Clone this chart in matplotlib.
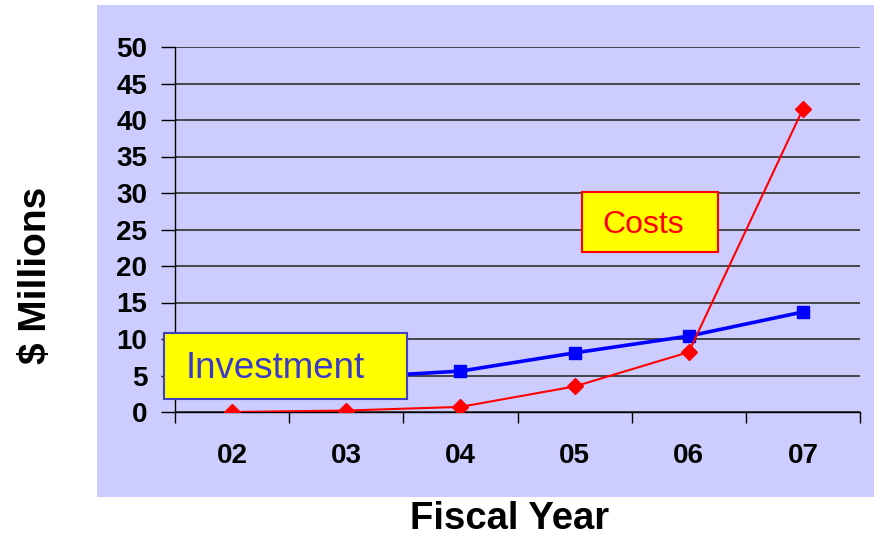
import matplotlib.pyplot as plt
from matplotlib.patches import Rectangle

# données
years = ['02', '03', '04', '05', '06', '07']
investment = [3.5, 4.7, 5.6, 8.1, 10.4, 13.7]
costs = [0.0, 0.2, 0.7, 3.5, 8.2, 41.5]
y_ticks = list(range(0, 55, 5))

lavender = '#CCCCFF'
plt.rcParams['font.family'] = ['Liberation Sans', 'DejaVu Sans']

W, H = 874, 537
fig = plt.figure(figsize=(W / 100, H / 100), dpi=100, facecolor='white')

# fond lavande
fig.patches.append(Rectangle((97 / W, 1 - 497 / H), 1 - 97 / W, (497 - 5) / H,
                             transform=fig.transFigure, facecolor=lavender,
                             edgecolor='none', zorder=-10))

ax = fig.add_axes([175 / W, 1 - 412 / H, (860 - 175) / W, (412 - 47) / H])
ax.set_facecolor(lavender)

x = list(range(len(years)))
ax.plot(x, investment, color='#0000FF', lw=2.6, marker='s', ms=8.5, zorder=3)
ax.plot(x, costs, color='#FF0000', lw=1.5, marker='D', ms=8.5, zorder=4)

ax.set_xlim(-0.5, len(years) - 0.5)
ax.set_ylim(0, 50)
ax.set_yticks(y_ticks)
ax.set_yticklabels([str(v) for v in y_ticks], fontsize=20, fontweight='bold')
ax.yaxis.grid(True, color='#3a3a3a', lw=1.3)
ax.set_axisbelow(True)

ax.set_xticks([i - 0.5 for i in range(len(years) + 1)])
ax.set_xticklabels([])
ax.set_xticks(x, minor=True)
ax.set_xticklabels(years, minor=True, fontsize=20, fontweight='bold')
ax.tick_params(axis='x', which='major', length=8, width=1, direction='out')
ax.tick_params(axis='x', which='minor', length=0, pad=22)
ax.tick_params(axis='y', length=10, width=1, pad=10)

for s in ['top', 'right']:
    ax.spines[s].set_visible(False)
for s in ['left', 'bottom']:
    ax.spines[s].set_color('black')
    ax.spines[s].set_linewidth(1)

# boîtes de légende
def label_box(x0, y0, x1, y1, tx, ty, text, fc, ec, tc, size):
    ax.add_patch(Rectangle((x0, y0), x1 - x0, y1 - y0, transform=ax.transAxes,
                           facecolor=fc, edgecolor=ec, lw=1.5, clip_on=False, zorder=6))
    ax.text(tx, ty, text, transform=ax.transAxes, ha='center', va='center',
            color=tc, fontsize=size, zorder=7, clip_on=False)

label_box(-0.016, 0.036, 0.339, 0.216, 0.146, 0.12, 'Investment',
          '#FFFF00', '#4040C0', '#3A3ACC', 26.5)
label_box(0.594, 0.438, 0.793, 0.603, 0.683, 0.513, 'Costs',
          '#FFFF00', '#FF0000', '#FF0000', 23)

fig.text(36 / W, 1 - 275 / H, '$ Millions', rotation=90, ha='center', va='center',
         fontsize=28, fontweight='bold')
fig.text(510 / W, 1 - 519 / H, 'Fiscal Year', ha='center', va='center',
         fontsize=27.5, fontweight='bold')

fig.savefig('out.png', dpi=100, facecolor='white')
